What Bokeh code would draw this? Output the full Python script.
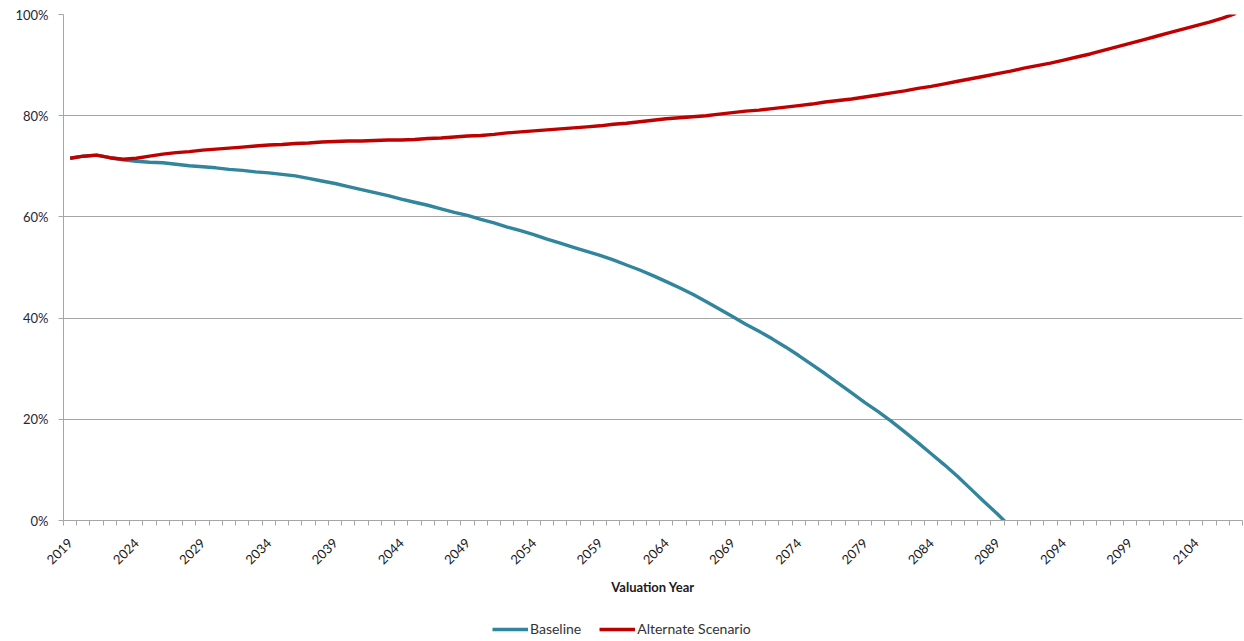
from bokeh.plotting import figure
from bokeh.layouts import column
from bokeh.models import Range1d, FixedTicker, PrintfTickFormatter, Legend, LegendItem
from bokeh.embed import file_html
from bokeh.resources import INLINE

years = list(range(2019, 2108))

baseline = [71.6, 72.0, 72.2, 71.7, 71.3, 71.0, 70.8, 70.7, 70.4, 70.1,
            69.9, 69.7, 69.4, 69.2, 68.9, 68.7, 68.4, 68.1, 67.6, 67.1,
            66.6, 66.0, 65.4, 64.8, 64.2, 63.5, 62.9, 62.3, 61.6, 60.9,
            60.3, 59.5, 58.8, 58.0, 57.3, 56.5, 55.6, 54.8, 54.0, 53.2,
            52.4, 51.5, 50.5, 49.5, 48.4, 47.2, 46.0, 44.7, 43.3, 41.8,
            40.3, 38.8, 37.4, 35.9, 34.3, 32.6, 30.8, 29.0, 27.1, 25.2,
            23.3, 21.5, 19.6, 17.5, 15.4, 13.2, 11.0, 8.7, 6.2, 3.7,
            1.3, -1.3]

alternate = [71.6, 72.0, 72.2, 71.7, 71.4, 71.6, 72.0, 72.4, 72.7, 72.9,
             73.2, 73.4, 73.6, 73.8, 74.0, 74.2, 74.3, 74.5, 74.6, 74.8,
             74.9, 75.0, 75.0, 75.1, 75.2, 75.2, 75.3, 75.5, 75.6, 75.8,
             76.0, 76.1, 76.3, 76.6, 76.8, 77.0, 77.2, 77.4, 77.6, 77.8,
             78.0, 78.3, 78.5, 78.8, 79.1, 79.4, 79.6, 79.8, 80.0, 80.3,
             80.6, 80.9, 81.1, 81.4, 81.7, 82.0, 82.3, 82.7, 83.0, 83.3,
             83.7, 84.1, 84.5, 84.9, 85.4, 85.8, 86.3, 86.8, 87.3, 87.8,
             88.3, 88.8, 89.4, 89.9, 90.4, 91.0, 91.6, 92.2, 92.9, 93.6,
             94.3, 95.0, 95.7, 96.4, 97.1, 97.8, 98.5, 99.3, 100.2]

series_names = ["Baseline", "Alternate Scenario"]
series_colors = ["#31859C", "#C00000"]
y_ticks = [0, 20, 40, 60, 80, 100]
x_label_years = list(range(2019, 2105, 5))

FONT = "Lato"
GRID = "#A6A6A6"

p = figure(width=1244, height=605, output_backend="svg", toolbar_location=None,
           x_range=Range1d(2018.5, 2107.5), y_range=Range1d(0, 100),
           min_border_left=63, min_border_top=14, min_border_right=2,
           min_border_bottom=85)
p.outline_line_color = None
p.background_fill_color = "white"
p.border_fill_color = "white"

p.line(years[:len(baseline)], baseline, line_color=series_colors[0], line_width=3.4)
p.line(years[:len(alternate)], alternate, line_color=series_colors[1], line_width=3.4)

# x axis
xa = p.xaxis[0]
xa.ticker = FixedTicker(ticks=x_label_years,
                        minor_ticks=[y - 0.5 for y in range(2019, 2109)])
xa.formatter = PrintfTickFormatter(format="%d")
xa.major_tick_out = 0
xa.major_tick_in = 0
xa.minor_tick_out = 5
xa.minor_tick_in = 0
xa.minor_tick_line_color = GRID
xa.axis_line_color = GRID
xa.major_label_orientation = 0.785398
xa.major_label_text_font = FONT
xa.major_label_text_font_size = "13px"
xa.major_label_text_color = "#1a1a1a"
xa.major_label_standoff = 15
xa.axis_label = "Valuation Year"
xa.axis_label_text_font = FONT
xa.axis_label_text_font_style = "bold"
xa.axis_label_text_font_size = "13px"
xa.axis_label_text_color = "#1a1a1a"
xa.axis_label_standoff = 7

# y axis
ya = p.yaxis[0]
ya.ticker = FixedTicker(ticks=y_ticks)
ya.formatter = PrintfTickFormatter(format="%d%%")
ya.major_tick_out = 5
ya.major_tick_in = 0
ya.minor_tick_out = 0
ya.minor_tick_in = 0
ya.major_tick_line_color = GRID
ya.axis_line_color = GRID
ya.major_label_text_font = FONT
ya.major_label_text_font_size = "13px"
ya.major_label_text_color = "#262638"
ya.major_label_standoff = 10

p.xgrid.grid_line_color = None
p.ygrid.grid_line_color = GRID
p.ygrid.grid_line_width = 1
p.ygrid.ticker = FixedTicker(ticks=y_ticks)

# legend strip below the chart (its lines lie outside its visible range)
lg = figure(width=1244, height=35, output_backend="svg", toolbar_location=None,
            x_axis_type=None, y_axis_type=None,
            x_range=Range1d(0, 1), y_range=Range1d(1000, 1001),
            min_border_left=0, min_border_right=0, min_border_top=0,
            min_border_bottom=0)
lg.outline_line_color = None
lg.xgrid.visible = False
lg.ygrid.visible = False
lb = lg.line(years[:len(baseline)], baseline, line_color=series_colors[0], line_width=3.6)
la = lg.line(years[:len(alternate)], alternate, line_color=series_colors[1], line_width=3.6)

legend = Legend(items=[LegendItem(label=series_names[0], renderers=[lb]),
                       LegendItem(label=series_names[1], renderers=[la])],
                orientation="horizontal", location=(429, 3),
                label_text_font=FONT, label_text_font_size="14px",
                label_text_color="#333333", glyph_width=36, glyph_height=14,
                label_height=14, label_standoff=2, spacing=18,
                padding=0, margin=0, border_line_color=None,
                background_fill_alpha=0)
lg.add_layout(legend, "center")

layout = column(p, lg, spacing=0)
open("out.html", "w").write(file_html(layout, INLINE))
